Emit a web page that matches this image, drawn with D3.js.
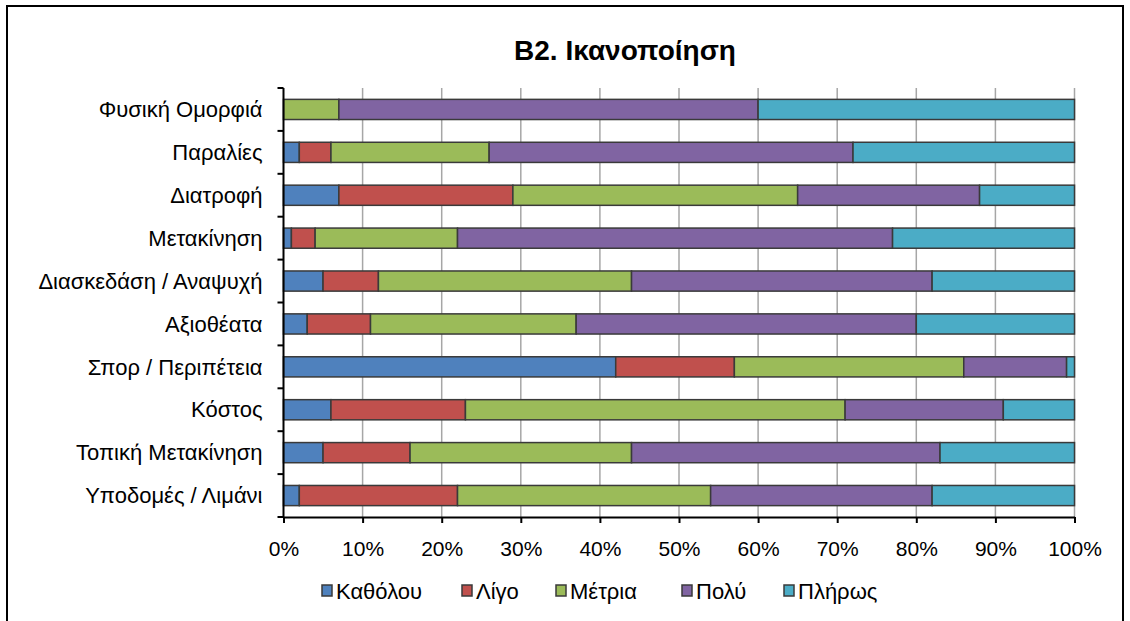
<!DOCTYPE html>
<html>
<head>
<meta charset="utf-8">
<script src="https://cdn.jsdelivr.net/npm/d3@7"></script>
<style>
body { margin: 0; background: #fff; }
svg { font-family: "Liberation Sans", Arial, sans-serif; }
.axis path, .axis line { stroke: #000; stroke-width: 2; }
.axis text { fill: #000; }
</style>
</head>
<body>
<svg></svg>
<script>
// categories top to bottom
const categories = ['Φυσική Ομορφιά', 'Παραλίες', 'Διατροφή', 'Μετακίνηση',
	'Διασκεδάση / Αναψυχή', 'Αξιοθέατα', 'Σπορ / Περιπέτεια', 'Κόστος',
	'Τοπική Μετακίνηση', 'Υποδομές / Λιμάνι']
const seriesNames = ['Καθόλου', 'Λίγο', 'Μέτρια', 'Πολύ', 'Πλήρως']
const kathólou = [0, 2, 7, 1, 5, 3, 42, 6, 5, 2]
const ligo     = [0, 4, 22, 3, 7, 8, 15, 17, 11, 20]
const metria   = [7, 20, 36, 18, 32, 26, 29, 48, 28, 32]
const poly     = [53, 46, 23, 55, 38, 43, 13, 20, 39, 28]
const pliros   = [40, 28, 12, 23, 18, 20, 1, 9, 17, 18]
const xTicks = [0, 0.1, 0.2, 0.3, 0.4, 0.5, 0.6, 0.7, 0.8, 0.9, 1]
const colors = ['#4F81BD', '#C0504D', '#9BBB59', '#8064A2', '#4BACC6']

const W = 1130, H = 621
const margin = {top: 88, left: 283.5, right: 55.5, bottom: 104}
const width = W - margin.left - margin.right,
	height = H - margin.top - margin.bottom

const svg = d3.select('svg').attr('width', W).attr('height', H)

// outer frame
svg.append('rect')
	.attr('x', 7).attr('y', 6)
	.attr('width', 1116).attr('height', 640)
	.attr('fill', 'none').attr('stroke', '#000').attr('stroke-width', 2)

svg.append('text')
	.attr('x', 625).attr('y', 60)
	.attr('text-anchor', 'middle')
	.attr('font-size', 28).attr('font-weight', 'bold')
	.text('B2. Ικανοποίηση')

const table = categories.map((c, i) => {
	const vals = [kathólou[i], ligo[i], metria[i], poly[i], pliros[i]]
	const tot = d3.sum(vals)
	const row = {cat: c}
	seriesNames.forEach((s, k) => row[s] = vals[k] / tot)
	return row
})
const stack = d3.stack().keys(seriesNames)(table)

const x = d3.scaleLinear().domain([0, 1]).range([0, width])
const y = d3.scaleBand().domain(categories).range([0, height]).paddingInner(0.53).paddingOuter(0.265)

const g = svg.append('g').attr('transform', `translate(${margin.left},${margin.top})`)

// gridlines
g.append('g').selectAll('line')
	.data(xTicks.slice(1)).enter()
	.append('line')
	.attr('x1', d => x(d)).attr('x2', d => x(d))
	.attr('y1', 0).attr('y2', height)
	.attr('stroke', '#a6a6a6').attr('stroke-width', 1.5)

// bars
g.selectAll('g.series')
	.data(stack).enter()
	.append('g').attr('class', 'series')
	.attr('fill', (d, i) => colors[i])
	.selectAll('rect')
	.data(d => d.filter(p => p[1] - p[0] > 0)).enter()
	.append('rect')
	.attr('x', d => x(d[0]))
	.attr('width', d => x(d[1]) - x(d[0]))
	.attr('y', d => y(d.data.cat))
	.attr('height', y.bandwidth())
	.attr('stroke', '#3a3a3a').attr('stroke-width', 1.5)

// x axis
g.append('g')
	.attr('class', 'axis')
	.attr('transform', `translate(0,${height})`)
	.call(d3.axisBottom(x).tickValues(xTicks).tickFormat(d3.format('.0%')).tickSize(6).tickSizeOuter(0))
	.call(a => a.selectAll('text').attr('font-size', 21).attr('y', 39).attr('dy', 0))

// y axis with ticks at category boundaries
const yAxis = g.append('g').attr('class', 'axis')
yAxis.append('line').attr('x1', 0).attr('x2', 0).attr('y1', 0).attr('y2', height)
yAxis.selectAll('line.tk')
	.data(d3.range(categories.length + 1)).enter()
	.append('line').attr('class', 'tk')
	.attr('x1', -6).attr('x2', 0)
	.attr('y1', d => d * height / categories.length)
	.attr('y2', d => d * height / categories.length)
yAxis.selectAll('text')
	.data(categories).enter()
	.append('text')
	.attr('x', -21)
	.attr('y', d => y(d) + y.bandwidth() / 2)
	.attr('dy', '0.35em')
	.attr('text-anchor', 'end')
	.attr('font-size', 22)
	.text(d => d)

// legend
const legendX = [322, 462, 556, 682, 784]
const lg = svg.append('g').selectAll('g')
	.data(seriesNames).enter()
	.append('g')
	.attr('transform', (d, i) => `translate(${legendX[i]},585)`)
lg.append('rect')
	.attr('width', 10).attr('height', 11)
	.attr('fill', (d, i) => colors[i])
	.attr('stroke', '#3a3a3a').attr('stroke-width', 1.5)
lg.append('text')
	.attr('x', 14).attr('y', 6)
	.attr('dy', '0.35em')
	.attr('font-size', 22)
	.text(d => d)
</script>
</body>
</html>
